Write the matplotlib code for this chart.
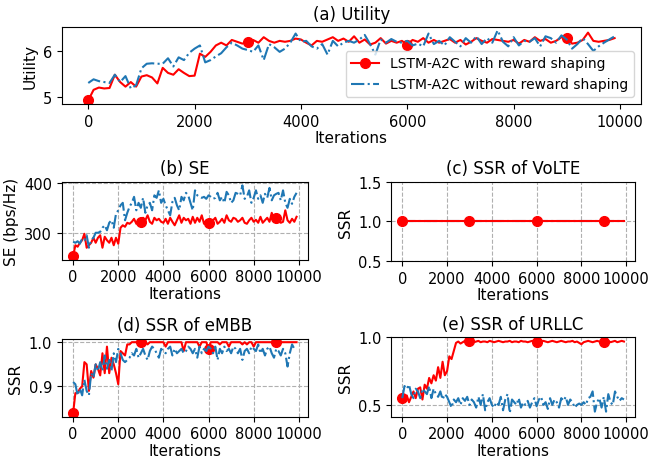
import numpy as np
import matplotlib.pyplot as plt

# iterations, one sample every 100 steps
iterations = np.arange(0, 10000, 100)

# (a) Utility
utility_rs = [4.92, 5.15, 5.20, 5.18, 5.19, 5.48, 5.32, 5.22, 5.32, 5.22,
              5.44, 5.47, 5.42, 5.29, 5.63, 5.52, 5.48, 5.60, 5.52, 5.45,
              5.46, 5.94, 5.87, 5.98, 6.12, 6.18, 6.12, 6.24, 6.20, 6.16,
              6.20, 6.24, 6.18, 6.30, 6.22, 6.18, 6.22, 6.20, 6.22, 6.27,
              6.25, 6.18, 6.12, 6.22, 6.20, 6.25, 6.30, 6.22, 6.27, 6.20,
              6.32, 6.18, 6.25, 6.14, 6.18, 6.28, 6.16, 6.22, 6.18, 6.22,
              6.14, 6.24, 6.20, 6.28, 6.18, 6.24, 6.18, 6.22, 6.26, 6.18,
              6.24, 6.14, 6.20, 6.28, 6.22, 6.18, 6.26, 6.24, 6.22, 6.20,
              6.24, 6.16, 6.24, 6.20, 6.30, 6.22, 6.26, 6.18, 6.22, 6.30,
              6.28, 6.16, 6.18, 6.24, 6.40, 6.22, 6.20, 6.22, 6.24, 6.28]
utility_nors = [5.30, 5.38, 5.34, 5.32, 5.30, 5.48, 5.32, 5.45, 5.18, 5.25,
                5.62, 5.72, 5.73, 5.72, 5.72, 5.84, 5.66, 5.86, 5.80, 5.96,
                6.05, 6.12, 5.75, 5.80, 5.88, 5.95, 6.08, 6.18, 6.12, 6.05,
                6.02, 5.98, 6.12, 5.80, 6.15, 6.08, 5.98, 6.05, 6.18, 6.38,
                6.20, 6.22, 6.10, 6.05, 6.15, 5.92, 6.22, 6.10, 6.18, 6.22,
                6.18, 6.25, 6.35, 6.15, 5.92, 6.25, 6.18, 6.26, 6.20, 6.18,
                6.22, 6.12, 6.16, 6.10, 6.38, 6.15, 6.22, 6.12, 6.30, 6.20,
                6.10, 6.28, 6.18, 6.32, 6.15, 6.28, 6.18, 6.45, 6.20, 6.10,
                6.30, 6.12, 6.22, 6.20, 6.28, 6.10, 6.32, 6.28, 6.18, 6.34,
                6.25, 6.05, 6.15, 6.28, 6.15, 6.00, 6.10, 6.18, 6.25, 6.32]

# (b) SE
se_rs = [253, 275, 272, 280, 285, 298, 270, 275, 280, 290,
         280, 290, 295, 270, 292, 285, 280, 290, 275, 290,
         278, 310, 315, 312, 320, 318, 322, 328, 318, 322,
         322, 330, 325, 335, 322, 318, 330, 325, 328, 322,
         320, 328, 318, 330, 322, 315, 325, 335, 320, 330,
         325, 328, 318, 332, 320, 330, 322, 335, 318, 325,
         320, 318, 325, 330, 318, 322, 328, 320, 335, 325,
         322, 330, 328, 322, 325, 330, 320, 318, 325, 330,
         322, 326, 320, 332, 320, 325, 330, 322, 340, 325,
         330, 328, 320, 322, 345, 325, 320, 328, 322, 332]
se_nors = [282, 280, 283, 278, 288, 285, 295, 270, 285, 290,
           300, 300, 302, 310, 315, 305, 320, 325, 310, 338,
           345, 355, 360, 325, 340, 352, 360, 372, 345, 360,
           350, 370, 340, 355, 360, 345, 375, 370, 385, 360,
           368, 355, 345, 335, 362, 370, 355, 345, 372, 365,
           380, 375, 360, 345, 385, 375, 372, 370, 372, 368,
           375, 372, 368, 370, 380, 365, 372, 360, 382, 375,
           360, 365, 380, 378, 375, 395, 368, 372, 385, 360,
           370, 385, 368, 375, 360, 378, 370, 390, 365, 375,
           378, 380, 365, 385, 360, 350, 368, 358, 372, 380]

# (c) SSR of VoLTE -- both stay at 1.0
volte_rs = [1.0] * 100
volte_nors = [1.0] * 100

# (d) SSR of eMBB
embb_rs = [0.840, 0.885, 0.885, 0.895, 0.900, 0.955, 0.950, 0.890, 0.935, 0.920,
           0.950, 0.940, 0.925, 0.975, 0.930, 0.990, 0.930, 0.965, 0.950, 0.930,
           0.905, 0.980, 0.975, 0.970, 0.995, 0.995, 1.000, 1.000, 1.000, 1.000,
           1.000, 1.000, 1.000, 0.995, 1.000, 1.000, 1.000, 1.000, 1.000, 1.000,
           1.000, 0.990, 1.000, 1.000, 1.000, 1.000, 1.000, 1.000, 1.000, 0.980,
           1.000, 1.000, 1.000, 1.000, 1.000, 1.000, 0.990, 1.000, 1.000, 1.000,
           0.985, 1.000, 1.000, 1.000, 1.000, 0.995, 1.000, 1.000, 1.000, 0.990,
           1.000, 1.000, 1.000, 1.000, 1.000, 0.995, 1.000, 0.995, 1.000, 1.000,
           0.990, 1.000, 1.000, 1.000, 1.000, 1.000, 1.000, 1.000, 1.000, 1.000,
           1.000, 1.000, 1.000, 1.000, 1.000, 1.000, 1.000, 1.000, 1.000, 1.000]
embb_nors = [0.910, 0.905, 0.880, 0.895, 0.880, 0.915, 0.890, 0.880, 0.930, 0.920,
             0.950, 0.935, 0.955, 0.935, 0.970, 0.940, 0.960, 0.935, 0.975, 0.955,
             0.985, 0.975, 0.960, 0.955, 0.960, 0.965, 0.975, 0.970, 0.985, 0.965,
             0.975, 0.985, 0.970, 0.960, 0.980, 0.990, 0.985, 0.975, 0.965, 0.985,
             0.980, 0.975, 0.985, 0.990, 0.970, 0.985, 0.975, 0.980, 0.985, 0.975,
             0.980, 0.990, 0.985, 0.975, 0.985, 0.965, 0.990, 0.975, 0.985, 0.980,
             0.990, 0.985, 0.975, 0.990, 0.960, 0.985, 0.975, 0.990, 0.980, 0.985,
             0.975, 0.990, 0.985, 0.975, 0.985, 0.960, 0.980, 0.985, 0.975, 0.990,
             0.985, 0.980, 0.995, 0.975, 0.985, 0.970, 0.985, 0.990, 0.975, 0.965,
             0.985, 0.980, 0.970, 0.985, 0.975, 0.945, 0.975, 0.995, 0.985, 0.985]

# (e) SSR of URLLC
urllc_rs = [0.55, 0.54, 0.57, 0.52, 0.56, 0.60, 0.55, 0.62, 0.63, 0.54,
            0.65, 0.62, 0.70, 0.66, 0.72, 0.68, 0.78, 0.70, 0.82, 0.72,
            0.75, 0.86, 0.84, 0.90, 0.96, 0.97, 0.955, 0.965, 0.975, 0.97,
            0.975, 0.97, 0.965, 0.97, 0.975, 0.965, 0.97, 0.97, 0.965, 0.975,
            0.97, 0.965, 0.97, 0.975, 0.97, 0.965, 0.97, 0.97, 0.975, 0.965,
            0.97, 0.97, 0.965, 0.975, 0.97, 0.97, 0.965, 0.97, 0.975, 0.97,
            0.97, 0.965, 0.97, 0.975, 0.97, 0.965, 0.97, 0.975, 0.97, 0.965,
            0.97, 0.975, 0.97, 0.965, 0.97, 0.97, 0.975, 0.965, 0.97, 0.96,
            0.95, 0.965, 0.97, 0.975, 0.97, 0.965, 0.97, 0.975, 0.97, 0.965,
            0.97, 0.96, 0.975, 0.965, 0.97, 0.975, 0.965, 0.97, 0.975, 0.97]
urllc_nors = [0.55, 0.64, 0.62, 0.65, 0.58, 0.55, 0.62, 0.60, 0.55, 0.62,
              0.60, 0.58, 0.64, 0.55, 0.62, 0.58, 0.56, 0.60, 0.54, 0.58,
              0.56, 0.52, 0.48, 0.54, 0.52, 0.55, 0.50, 0.55, 0.53, 0.56,
              0.50, 0.54, 0.52, 0.48, 0.56, 0.50, 0.58, 0.46, 0.52, 0.55,
              0.50, 0.48, 0.52, 0.50, 0.56, 0.46, 0.54, 0.58, 0.44, 0.54,
              0.52, 0.50, 0.55, 0.48, 0.52, 0.50, 0.53, 0.48, 0.52, 0.55,
              0.49, 0.54, 0.56, 0.50, 0.52, 0.47, 0.55, 0.50, 0.54, 0.52,
              0.48, 0.55, 0.53, 0.56, 0.50, 0.54, 0.52, 0.48, 0.50, 0.51,
              0.50, 0.52, 0.50, 0.55, 0.56, 0.60, 0.45, 0.52, 0.55, 0.48,
              0.56, 0.45, 0.58, 0.52, 0.50, 0.60, 0.56, 0.53, 0.55, 0.54]

label_rs = 'LSTM-A2C with reward shaping'
label_nors = 'LSTM-A2C without reward shaping'

fig = plt.figure(figsize=(6.52, 4.64), dpi=100)

ax_a = fig.add_axes([0.095, 0.774, 0.888, 0.166])
ax_b = fig.add_axes([0.095, 0.438, 0.377, 0.168])
ax_c = fig.add_axes([0.600, 0.435, 0.374, 0.171])
ax_d = fig.add_axes([0.095, 0.100, 0.377, 0.168])
ax_e = fig.add_axes([0.600, 0.100, 0.374, 0.171])


def draw(ax, rs, nors, title, ylabel, grid=True):
    ax.plot(iterations, rs, '-', color='red', marker='o', markevery=30,
            markersize=7, linewidth=1.5, label=label_rs)
    ax.plot(iterations, nors, '-.', color='#1f77b4', linewidth=1.5,
            label=label_nors)
    ax.set_title(title, fontsize=12)
    ax.set_xlabel('Iterations', fontsize=11, labelpad=1)
    ax.set_ylabel(ylabel, fontsize=11)
    ax.set_xticks([0, 2000, 4000, 6000, 8000, 10000])
    ax.tick_params(labelsize=10.5)
    if grid:
        ax.grid(True, linestyle='--', color='#b0b0b0', linewidth=0.8)


draw(ax_a, utility_rs, utility_nors, '(a) Utility', 'Utility', grid=False)
ax_a.legend(loc='lower right', fontsize=10)

draw(ax_b, se_rs, se_nors, '(b) SE', 'SE (bps/Hz)')

# plot the hidden series first so the red line sits on top
ax_c.plot(iterations, volte_nors, '-.', color='#1f77b4', linewidth=1.5)
ax_c.plot(iterations, volte_rs, '-', color='red', marker='o', markevery=30,
          markersize=7, linewidth=1.5)
ax_c.set_title('(c) SSR of VoLTE', fontsize=12)
ax_c.set_xlabel('Iterations', fontsize=11, labelpad=1)
ax_c.set_ylabel('SSR', fontsize=11)
ax_c.set_xticks([0, 2000, 4000, 6000, 8000, 10000])
ax_c.set_ylim(0.5, 1.5)
ax_c.set_yticks([0.5, 1.0, 1.5])
ax_c.tick_params(labelsize=10.5)
ax_c.grid(True, linestyle='--', color='#b0b0b0', linewidth=0.8)

draw(ax_d, embb_rs, embb_nors, '(d) SSR of eMBB', 'SSR')
ax_d.set_yticks([0.9, 1.0])

draw(ax_e, urllc_rs, urllc_nors, '(e) SSR of URLLC', 'SSR')
ax_e.set_yticks([0.5, 1.0])

fig.savefig('out.png', dpi=100)
